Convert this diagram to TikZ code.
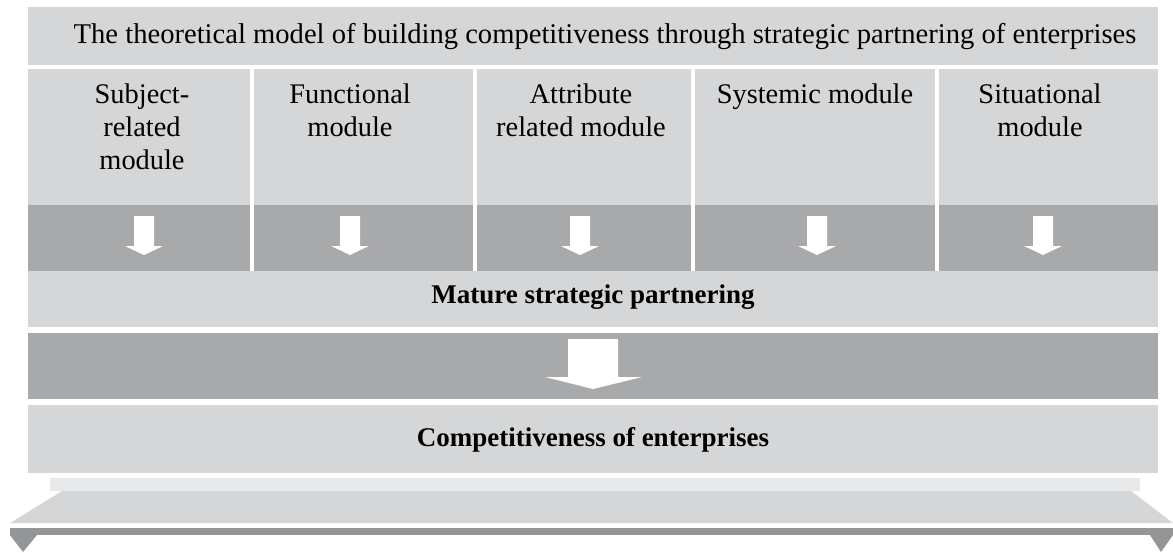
\documentclass[tikz,border=0pt]{standalone}
\usepackage{fontspec}
\setmainfont{Liberation Serif}

\definecolor{panelgray}{HTML}{D5D6D8}
\definecolor{bandgray}{HTML}{A8A9AB}
\definecolor{palegray}{HTML}{E8E9EA}
\definecolor{bargray}{HTML}{949597}

\tikzset{
  modtext/.style={anchor=north, align=center, font=\fontsize{14.2}{16.5}\selectfont},
  headtext/.style={font=\fontsize{14.3}{16}\selectfont},
  boldtext/.style={font=\fontsize{13.5}{16}\selectfont\bfseries},
  sep/.style={white, line width=2pt}
}

\begin{document}
\begin{tikzpicture}[x=0.5pt,y=-0.5pt]

\useasboundingbox (0,0) rectangle (1173,552);

% title band
\fill[panelgray] (28,7) rectangle (1158,65);
\node[headtext] (title) at (605,37) {The theoretical model of building competitiveness through strategic partnering of enterprises};

% module columns
\fill[panelgray] (28,69) rectangle (1158,205);
\fill[bandgray] (28,205) rectangle (1158,271);
\foreach \sx in {252,475,693,937}
  \draw[sep] (\sx,69) -- (\sx,271);

\node[modtext] (subj) at (142,77) {Subject-\\related\\module};
\node[modtext] (func) at (350,77) {Functional\\module};
\node[modtext] (attr) at (581,77) {Attribute\\related module};
\node[modtext] (syst) at (815,77) {Systemic module};
\node[modtext] (situ) at (1040,77) {Situational\\module};

\foreach \cx in {144,350,580,817,1043}
  \fill[white] (\cx-10,216) -- (\cx+10,216) -- (\cx+10,246) -- (\cx+19,246)
    -- (\cx,255) -- (\cx-19,246) -- (\cx-10,246) -- cycle;

% mature partnering
\fill[panelgray] (28,271) rectangle (1158,327);
\node[boldtext] (mature) at (593,297) {Mature strategic partnering};

\fill[bandgray] (28,333) rectangle (1158,399);
\fill[white] (568,339) -- (618,339) -- (618,377) -- (642,377) -- (593,389)
  -- (545,377) -- (568,377) -- cycle;

% competitiveness
\fill[panelgray] (28,405) rectangle (1158,473);
\node[boldtext] (comp) at (593,440) {Competitiveness of enterprises};

% base
\fill[palegray] (50,478) rectangle (1140,491);
\fill[panelgray] (62,491) -- (1131,491) -- (1173,523) -- (10,523) -- cycle;
\fill[bargray] (10,528) rectangle (1173,535);
\fill[bargray] (10,535) -- (37,535) -- (23,552) -- cycle;
\fill[bargray] (1150,535) -- (1173,535) -- (1161,552) -- cycle;

\end{tikzpicture}
\end{document}
